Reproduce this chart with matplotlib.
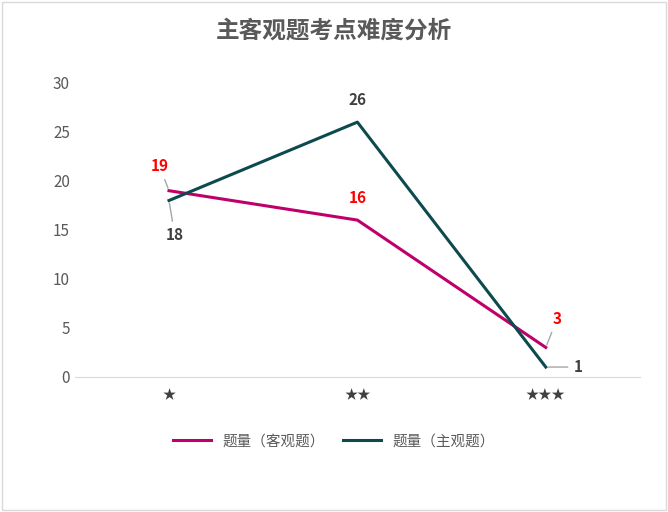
import matplotlib.pyplot as plt
from matplotlib.patches import Rectangle

plt.rcParams['font.family'] = ['Noto Sans CJK SC', 'DejaVu Sans']

categories = ['★', '★★', '★★★']
objective = [19, 16, 3]
subjective = [18, 26, 1]
title = '主客观题考点难度分析'
names = ['题量（客观题）', '题量（主观题）']
c1, c2 = '#C0006A', '#0C4A4E'

fig = plt.figure(figsize=(6.68, 5.12), dpi=100)
fig.patches.append(Rectangle((0.003, 0.003), 0.994, 0.994, transform=fig.transFigure,
                             fill=False, edgecolor='#D9D9D9', lw=1))
ax = fig.add_axes([0.112, 0.264, 0.846, 0.574])
x = list(range(len(categories)))
l1, = ax.plot(x, objective, color=c1, lw=2.2, label=names[0])
l2, = ax.plot(x, subjective, color=c2, lw=2.2, label=names[1])
ax.set_xlim(-0.5, 2.5)
ax.set_ylim(0, 30)
ax.set_yticks(range(0, 31, 5))
ax.set_xticks(x)
ax.set_xticklabels(categories, color='#404040', fontsize=9.5)
ax.tick_params(axis='y', colors='#595959', labelsize=11, length=0)
ax.tick_params(axis='x', length=0, pad=9)
for s in ['top', 'right', 'left']:
    ax.spines[s].set_visible(False)
ax.spines['bottom'].set_color('#D9D9D9')

kw = dict(fontsize=11, fontweight='bold', ha='center', va='center')
ax.annotate(str(objective[0]), (x[0], objective[0]), xytext=(-0.05, 21.5), color='red',
            arrowprops=dict(arrowstyle='-', color='#A6A6A6', lw=1), **kw)
ax.annotate(str(objective[1]), (x[1], objective[1]), xytext=(1.0, 18.3), color='red', **kw)
ax.annotate(str(objective[2]), (x[2], objective[2]), xytext=(2.06, 5.9), color='red',
            arrowprops=dict(arrowstyle='-', color='#A6A6A6', lw=1), **kw)
ax.annotate(str(subjective[0]), (x[0], subjective[0]), xytext=(0.03, 14.5), color='#404040',
            arrowprops=dict(arrowstyle='-', color='#A6A6A6', lw=1), **kw)
ax.annotate(str(subjective[1]), (x[1], subjective[1]), xytext=(1.0, 28.3), color='#404040', **kw)
ax.annotate(str(subjective[2]), (x[2], subjective[2]), xytext=(2.17, 1.0), color='#404040',
            arrowprops=dict(arrowstyle='-', color='#A6A6A6', lw=1), **kw)

fig.text(0.5, 0.94, title, ha='center', va='center', fontsize=17, fontweight='bold', color='#595959')
fig.legend(handles=[l1, l2], loc='center', bbox_to_anchor=(0.5, 0.138), ncol=2, frameon=False,
           fontsize=10.5, labelcolor='#595959', handlelength=2.6, columnspacing=1.2)
fig.savefig('out.png', dpi=100)
